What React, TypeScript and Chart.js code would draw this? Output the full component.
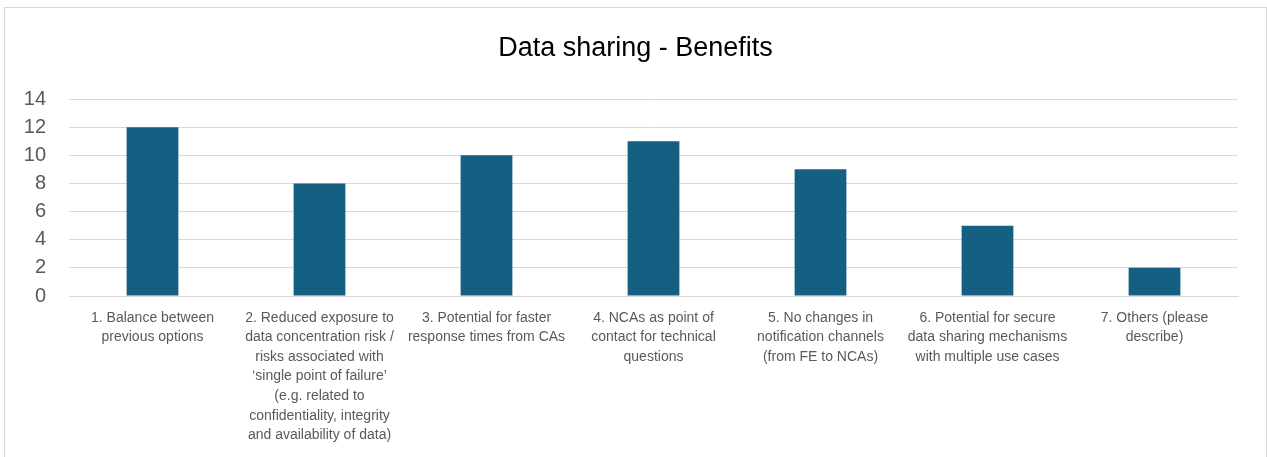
import React, { useEffect, useRef } from "react";
import { Chart, registerables } from "chart.js";

Chart.register(...registerables);

const categories: string[][] = [
  ["1. Balance between", "previous options"],
  [
    "2. Reduced exposure to",
    "data concentration risk /",
    "risks associated with",
    "\u2018single point of failure\u2019",
    "(e.g. related to",
    "confidentiality, integrity",
    "and availability of data)",
  ],
  ["3. Potential for faster", "response times from CAs"],
  ["4. NCAs as point of", "contact for technical", "questions"],
  ["5. No changes in", "notification channels", "(from FE to NCAs)"],
  ["6. Potential for secure", "data sharing mechanisms", "with multiple use cases"],
  ["7. Others (please", "describe)"],
];

const values: number[] = [12, 8, 10, 11, 9, 5, 2];

const titleText = "Data sharing - Benefits";
const yMin = 0;
const yMax = 14;
const yStep = 2;

const W = 1261;
const H = 450;
const FONT = "'Liberation Sans', Arial, sans-serif";

export default function App() {
  const ref = useRef<HTMLCanvasElement | null>(null);

  useEffect(() => {
    document.body.style.margin = "0";
    document.body.style.overflow = "hidden";
    const canvas = ref.current;
    if (!canvas) return;
    const chart = new Chart(canvas, {
      type: "bar",
      data: {
        labels: categories,
        datasets: [
          {
            data: values,
            backgroundColor: "#156082",
            borderWidth: 0,
            barPercentage: 0.31,
            categoryPercentage: 1,
          },
        ],
      },
      options: {
        responsive: false,
        animation: false,
        devicePixelRatio: 1,
        layout: { padding: 0 },
        plugins: {
          legend: { display: false },
          tooltip: { enabled: false },
          title: {
            display: true,
            text: titleText,
            color: "#000000",
            font: { family: FONT, size: 27, weight: "normal", lineHeight: 1.2 },
            padding: { top: 24.4, bottom: 34.2 },
          },
        },
        scales: {
          x: {
            grid: { display: false, drawTicks: false },
            border: { display: true, color: "#d9d9d9", width: 1 },
            ticks: {
              color: "#595959",
              font: { family: FONT, size: 14, lineHeight: 1.4 },
              padding: 12,
              maxRotation: 0,
              autoSkip: false,
            },
            afterFit: (scale: any) => {
              scale.height = 162;
            },
          },
          y: {
            min: yMin,
            max: yMax,
            grid: { color: "#d9d9d9", drawTicks: false, lineWidth: 1 },
            border: { display: false },
            ticks: {
              stepSize: yStep,
              color: "#595959",
              font: { family: FONT, size: 20 },
              padding: 23,
            },
            afterFit: (scale: any) => {
              scale.width = 64;
            },
          },
          yRight: {
            position: "right",
            min: yMin,
            max: yMax,
            grid: { display: false, drawTicks: false },
            border: { display: false },
            ticks: { display: false },
            afterFit: (scale: any) => {
              scale.width = 28;
            },
          },
        },
      },
    });
    return () => chart.destroy();
  }, []);

  return (
    <div
      style={{
        position: "fixed",
        left: 4,
        top: 7,
        width: W,
        height: H,
        border: "1px solid #d9d9d9",
        background: "#ffffff",
      }}
    >
      <canvas ref={ref} width={W} height={H} style={{ display: "block", width: W, height: H }} />
    </div>
  );
}
